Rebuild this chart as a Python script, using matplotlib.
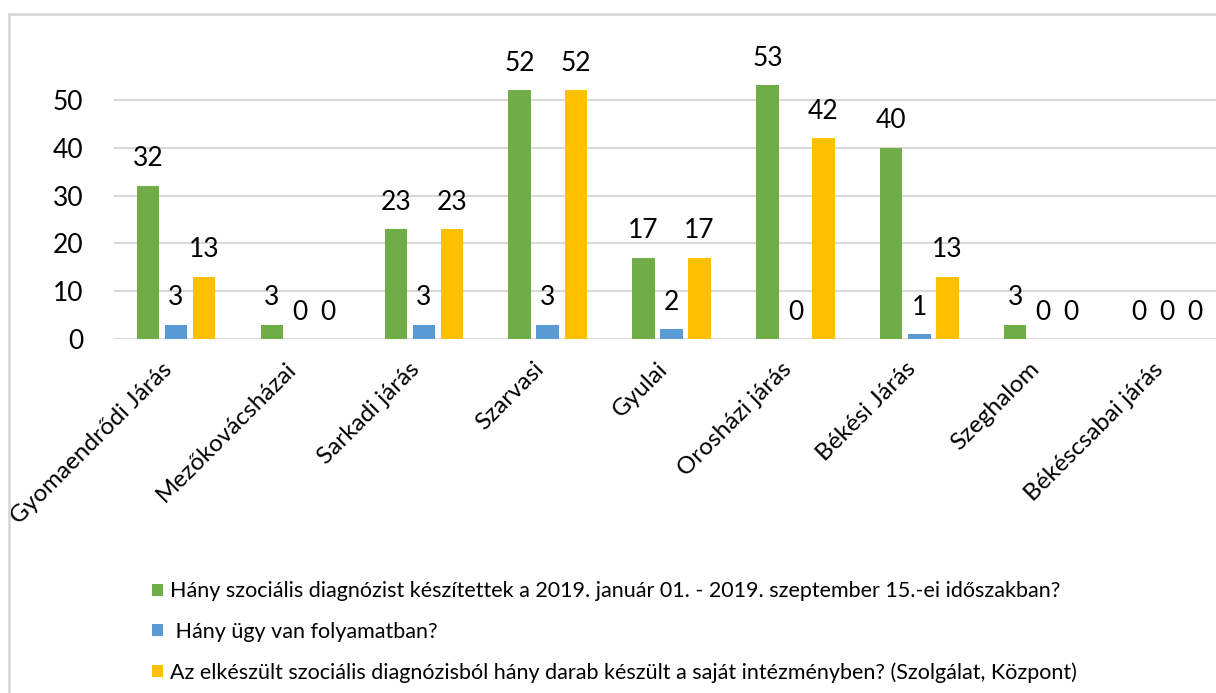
import matplotlib

matplotlib.use("Agg")
import matplotlib.pyplot as plt
import numpy as np
from matplotlib.lines import Line2D
from matplotlib.patches import Patch

plt.rcParams["font.family"] = ["Lato", "DejaVu Sans"]

categories = [
    "Gyomaendrődi Járás",
    "Mezőkovácsházai",
    "Sarkadi járás",
    "Szarvasi",
    "Gyulai",
    "Orosházi járás",
    "Békési Járás",
    "Szeghalom",
    "Békéscsabai járás",
]
diagnoses = [32, 3, 23, 52, 17, 53, 40, 3, 0]
in_progress = [3, 0, 3, 3, 2, 0, 1, 0, 0]
own_institution = [13, 0, 23, 52, 17, 42, 13, 0, 0]

series_labels = [
    "Hány szociális diagnózist készítettek a 2019. január 01. - 2019. szeptember 15.-ei időszakban?",
    " Hány ügy van folyamatban?",
    "Az elkészült szociális diagnózisból hány darab készült a saját intézményben? (Szolgálat, Központ)",
]
series_values = [diagnoses, in_progress, own_institution]
colors = ["#70AD47", "#5B9BD5", "#FFC000"]
y_ticks = [0, 10, 20, 30, 40, 50]

fig = plt.figure(figsize=(12.16, 6.93), dpi=100)
ax = fig.add_axes([114 / 1216, 1 - 339 / 693, (1216 - 114) / 1216, 287 / 693])

x = np.arange(len(categories))
width = 0.18
offset = 0.226
for i, (vals, color) in enumerate(zip(series_values, colors)):
    pos = x + (i - 1) * offset
    bars = ax.bar(pos, vals, width=width, color=color, zorder=3)
    for rect, v in zip(bars, vals):
        ax.annotate(
            str(v),
            (rect.get_x() + rect.get_width() / 2, v),
            xytext=(0, 14),
            textcoords="offset points",
            ha="center",
            va="baseline",
            fontsize=19,
            color="#000000",
            annotation_clip=False,
        )

ax.set_xlim(-0.5, (1216 - 114) / 123.9 - 0.5)
ax.set_ylim(0, 60)
ax.set_yticks(y_ticks)
ax.set_yticklabels([str(t) for t in y_ticks], fontsize=19)
ax.set_xticks(x)
ax.set_xticklabels(categories, rotation=45, ha="right", va="top", fontsize=17.5)
ax.tick_params(axis="y", length=0, pad=22)
ax.tick_params(axis="x", length=0, pad=14)
ax.grid(axis="y", color="#D9D9D9", linewidth=1.5, zorder=0)
for side in ["top", "right", "left", "bottom"]:
    ax.spines[side].set_visible(False)

# outer chart border (light gray), cropped at right and bottom
fig.add_artist(Line2D([9 / 1216, 9 / 1216], [0, 1 - 14 / 693], transform=fig.transFigure, color="#D9D9D9", linewidth=2))
fig.add_artist(Line2D([9 / 1216, 1], [1 - 14 / 693, 1 - 14 / 693], transform=fig.transFigure, color="#D9D9D9", linewidth=2))

handles = [Patch(facecolor=c, edgecolor="none") for c in colors]
fig.legend(
    handles,
    series_labels,
    loc="upper left",
    bbox_to_anchor=(133 / 1216, 1 - 562 / 693),
    frameon=False,
    fontsize=15.5,
    handlelength=0.5,
    handleheight=0.5,
    handletextpad=0.3,
    labelspacing=0.95,
)

fig.savefig("out.png", dpi=100)
